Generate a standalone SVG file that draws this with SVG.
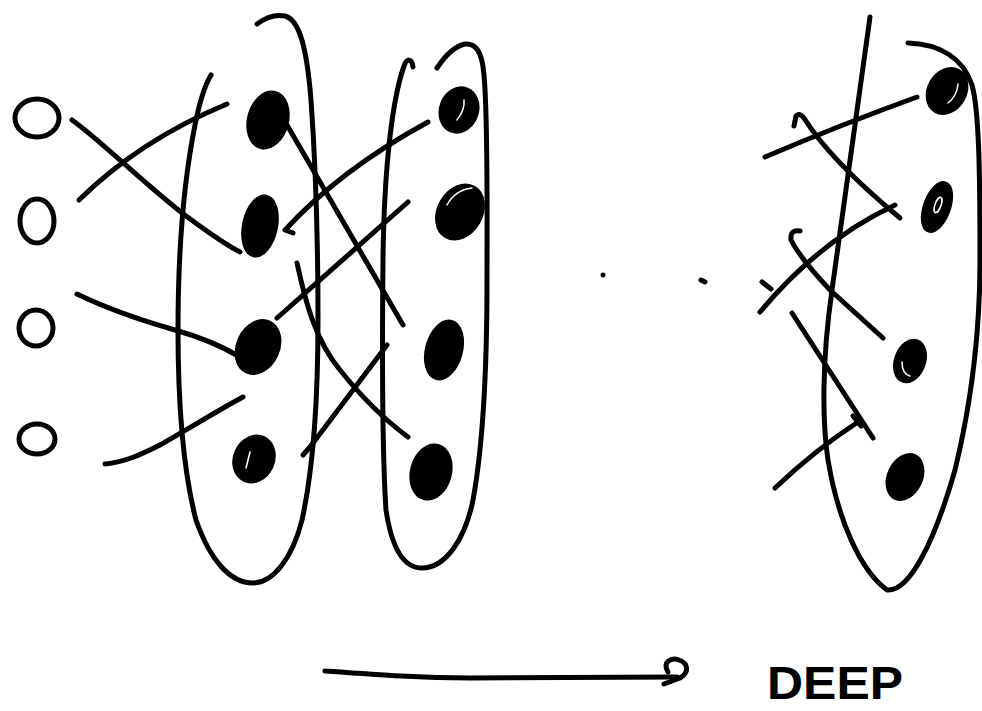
<svg xmlns="http://www.w3.org/2000/svg" width="982" height="711" viewBox="0 0 982 711">
<style>
.s{fill:none;stroke:#000;stroke-width:5;stroke-linecap:round;stroke-linejoin:round}
.in{fill:#fff;stroke:#000;stroke-width:5}
.h{fill:#000;stroke:#000;stroke-width:4}
.hl{fill:none;stroke:#fff;stroke-width:1.5;stroke-linecap:round}
.t{font-family:"Liberation Sans",Arial,sans-serif;font-size:46px;font-weight:bold;fill:#000}
</style>
<rect width="982" height="711" fill="#fff"/>
<g id="layer1">
<path class="s" d="M257,24 C265,18 275,14 285,16 C300,20 307,50 311,100 C316,170 318,250 318,320 C318,400 313,470 302,520 C292,560 272,583 253,583 C230,583 210,560 196,520 C183,470 178,400 178,330 C178,250 184,180 195,125 C200,100 205,85 211,75"/>
</g>
<g id="layer2">
<path class="s" d="M413,67 C412,58 407,58 404,66 C392,100 384,170 383,260 C382,360 382,450 386,510 C392,550 405,568 422,568 C445,568 465,540 473,500 C484,440 487,360 487,280 C487,200 488,120 484,75 C482,50 475,43 465,44 C455,46 445,56 437,68"/>
</g>
<g id="layerN">
<path class="s" d="M870,17 L832,290 C822,360 822,420 828,460 C838,520 860,570 887,590 C910,592 935,540 955,470 C972,400 980,330 980,260 C980,170 979,110 972,85 C963,58 940,44 908,43"/>
</g>
<g id="connectors">
<path class="s" d="M72,120 C100,140 140,180 182,213 C205,230 222,243 240,252"/>
<path class="s" d="M79,200 Q140,140 227,104"/>
<path class="s" d="M77,294 C110,310 140,320 175,330 C200,337 220,345 240,357"/>
<path class="s" d="M105,464 C125,462 140,455 160,445 C190,428 215,412 243,397"/>
<path class="s" d="M287,125 L403,325"/>
<path class="s" d="M293,233 L285,230 Q340,170 428,122"/>
<path class="s" d="M408,202 L277,318"/>
<path class="s" d="M297,263 C305,300 315,340 340,370 C360,395 385,420 408,437"/>
<path class="s" d="M303,455 L310,447 L387,345"/>
<path class="s" d="M765,157 Q840,125 917,97"/>
<path class="s" d="M794,126 L796,116 Q799,112 804,118 Q830,160 900,218"/>
<path class="s" d="M895,205 Q820,240 760,312"/>
<path class="s" d="M800,231 Q790,229 791,240 Q800,258 830,290 L883,338"/>
<path class="s" d="M762,282 L771,289"/>
<path class="s" d="M792,313 L873,438"/>
<path class="s" d="M775,488 Q815,450 858,422"/>
<path class="s" d="M853,416 L861,426"/>
</g>
<g id="input1"><ellipse class="in" cx="37" cy="118" rx="22" ry="19"/></g>
<g id="input2"><ellipse class="in" cx="37" cy="221" rx="17" ry="22"/></g>
<g id="input3"><ellipse class="in" cx="36" cy="328" rx="17" ry="18"/></g>
<g id="input4"><ellipse class="in" cx="37" cy="439" rx="18" ry="15"/></g>
<g id="h1a"><ellipse class="h" cx="268" cy="120" rx="19" ry="28" transform="rotate(15 268 120)"/></g>
<g id="h1b"><ellipse class="h" cx="260" cy="226" rx="16" ry="30" transform="rotate(12 260 226)"/></g>
<g id="h1c"><ellipse class="h" cx="258" cy="347" rx="20" ry="27" transform="rotate(25 258 347)"/></g>
<g id="h1d"><ellipse class="h" cx="254" cy="459" rx="19" ry="23" transform="rotate(25 254 459)"/><path class="hl" d="M246,468 L250,452"/></g>
<g id="h2a"><ellipse class="h" cx="459" cy="110" rx="18" ry="22" transform="rotate(20 459 110)"/><path class="hl" d="M457,120 Q465,110 464,100"/></g>
<g id="h2b"><ellipse class="h" cx="460" cy="212" rx="21" ry="28" transform="rotate(30 460 212)"/><path class="hl" d="M447,205 Q455,190 472,188"/></g>
<g id="h2c"><ellipse class="h" cx="444" cy="350" rx="17" ry="29" transform="rotate(15 444 350)"/></g>
<g id="h2d"><ellipse class="h" cx="431" cy="472" rx="19" ry="27" transform="rotate(15 431 472)"/></g>
<g id="r1"><ellipse class="h" cx="947" cy="91" rx="18" ry="23" transform="rotate(30 947 91)"/><path class="hl" d="M948,103 Q957,96 958,84"/></g>
<g id="r2"><ellipse class="h" cx="937" cy="207" rx="12" ry="25" transform="rotate(20 937 207)"/><ellipse class="hl" cx="938" cy="205" rx="3" ry="8" transform="rotate(20 938 205)"/></g>
<g id="r3"><ellipse class="h" cx="910" cy="361" rx="14" ry="21" transform="rotate(20 910 361)"/><path class="hl" d="M902,362 Q902,374 910,376"/></g>
<g id="r4"><ellipse class="h" cx="905" cy="477" rx="16" ry="23" transform="rotate(25 905 477)"/></g>
<g id="ellipsis">
<circle cx="603" cy="275" r="2.5" fill="#000"/>
<path class="s" d="M701,280 L705,282" stroke-width="4"/>
</g>
<g id="arrow">
<path class="s" d="M325,671 C380,675 420,678 470,678 L677,677"/>
<path class="s" d="M664,684 L680,678 C690,672 688,663 679,660 C671,657 662,662 668,672"/>
</g>
<g id="label">
<text class="t" x="767" y="699" textLength="136" lengthAdjust="spacingAndGlyphs">DEEP</text>
</g>
</svg>
